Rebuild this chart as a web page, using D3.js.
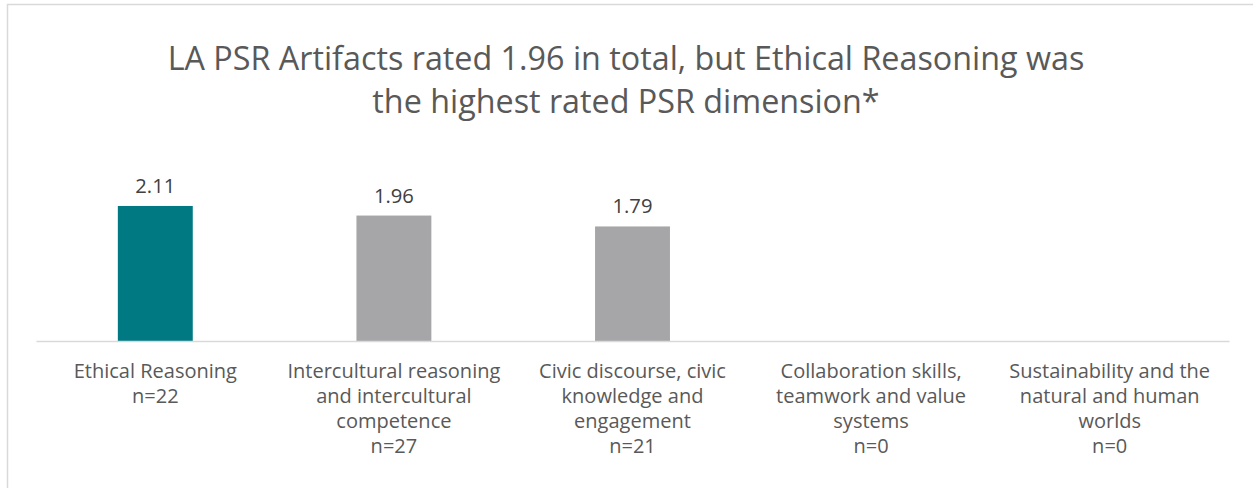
<!DOCTYPE html>
<html>
<head>
<meta charset="utf-8">
<script src="https://cdn.jsdelivr.net/npm/d3@7"></script>
<style>
  html, body { margin: 0; padding: 0; background: #fff; }
  svg { display: block; }
  svg text { font-family: "Open Sans", Lato, sans-serif; }
</style>
</head>
<body>
<svg id="chart" width="1253" height="488"></svg>
<script>
// chart data
var categories = [
  "Ethical Reasoning",
  "Intercultural reasoning and intercultural competence",
  "Civic discourse, civic knowledge and engagement",
  "Collaboration skills, teamwork and value systems",
  "Sustainability and the natural and human worlds"
];
var tickLines = [
  ["Ethical Reasoning", "n=22"],
  ["Intercultural reasoning", "and intercultural", "competence", "n=27"],
  ["Civic discourse, civic", "knowledge and", "engagement", "n=21"],
  ["Collaboration skills,", "teamwork and value", "systems", "n=0"],
  ["Sustainability and the", "natural and human", "worlds", "n=0"]
];
var values = [2.11, 1.96, 1.79, null, null];
var highlighted = ["Ethical Reasoning"];
var titleLines = [
  "LA PSR Artifacts rated 1.96 in total, but Ethical Reasoning was",
  "the highest rated PSR dimension*"
];

var svg = d3.select('#chart');
var textColor = '#595959';

// the original uses a narrow font; pick a size so a sample string is as wide as in the picture
function fitSize(sample, base, targetWidth) {
  var t = svg.append('text').attr('font-size', base).text(sample);
  var w = t.node().getComputedTextLength();
  t.remove();
  return base * targetWidth / w;
}
var titleSize = fitSize(titleLines[0], 28, 917);
var tickSize = fitSize("Intercultural reasoning", 16, 213);
var valueSize = fitSize("2.11", 17, 40);

// outer chart frame (right and bottom edges fall off the picture)
svg.append('rect')
  .attr('x', 7.5).attr('y', 4.5)
  .attr('width', 1300).attr('height', 600)
  .attr('fill', 'none')
  .attr('stroke', '#d9d9d9')
  .attr('stroke-width', 1.5);

// title
svg.append('g').selectAll('text')
  .data(titleLines)
  .join('text')
  .attr('x', 626)
  .attr('y', function (d, i) { return 70 + i * 43; })
  .attr('text-anchor', 'middle')
  .attr('font-size', titleSize)
  .attr('fill', textColor)
  .text(function (d) { return d; });

var x = d3.scaleBand()
  .domain(categories)
  .range([36, 1229])
  .padding(0);

var y = d3.scaleLinear()
  .domain([0, 2.5])
  .range([341, 181]);

var barW = x.bandwidth() * 0.314;

var data = categories.map(function (c, i) { return { cat: c, value: values[i] }; });
var withValue = data.filter(function (d) { return d.value != null; });

svg.append('g').selectAll('rect')
  .data(withValue)
  .join('rect')
  .attr('x', function (d) { return x(d.cat) + (x.bandwidth() - barW) / 2; })
  .attr('y', function (d) { return y(d.value); })
  .attr('width', barW)
  .attr('height', function (d) { return y(0) - y(d.value); })
  .attr('fill', function (d) { return highlighted.indexOf(d.cat) >= 0 ? '#017983' : '#a6a6a8'; });

// value labels
svg.append('g').selectAll('text')
  .data(withValue)
  .join('text')
  .attr('x', function (d) { return x(d.cat) + x.bandwidth() / 2; })
  .attr('y', function (d) { return y(d.value) - 13; })
  .attr('text-anchor', 'middle')
  .attr('font-size', valueSize)
  .attr('fill', '#404040')
  .text(function (d) { return d.value.toFixed(2); });

// category axis
var axis = svg.append('g')
  .attr('transform', 'translate(0,' + y(0) + ')')
  .call(d3.axisBottom(x).tickSize(0).tickFormat(''));
axis.attr('font-family', null);
axis.select('.domain').attr('stroke', '#d9d9d9').attr('stroke-width', 1.5);

axis.selectAll('.tick').each(function (d, i) {
  var t = d3.select(this).append('text')
    .attr('text-anchor', 'middle')
    .attr('fill', textColor)
    .attr('font-size', tickSize)
    .attr('y', 37);
  tickLines[i].forEach(function (line, j) {
    t.append('tspan').attr('x', 0).attr('dy', j === 0 ? 0 : 25).text(line);
  });
});
</script>
</body>
</html>
